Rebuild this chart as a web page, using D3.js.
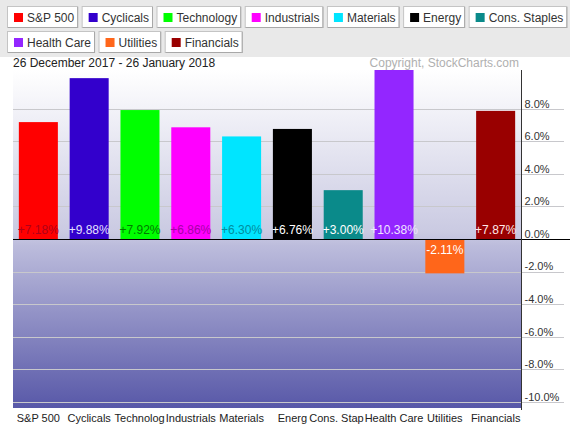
<!DOCTYPE html>
<html>
<head>
<meta charset="utf-8">
<script src="https://cdn.jsdelivr.net/npm/d3@7"></script>
<style>
html,body{margin:0;padding:0;background:#fff;}
svg{display:block;font-family:"Liberation Sans",Arial,sans-serif;}
</style>
</head>
<body>
<svg id="c" width="570" height="429"></svg>
<script>
// ---- data ----
const categories = ["S&P 500","Cyclicals","Technology","Industrials","Materials","Energy","Cons. Staples","Health Care","Utilities","Financials"];
const tickLabels = ["S&P 500","Cyclicals","Technolog","Industrials","Materials","Energ","Cons. Stap","Health Care","Utilities","Financials"];
const values = [7.18, 9.88, 7.92, 6.86, 6.30, 6.76, 3.00, 10.38, -2.11, 7.87];
const barColors = ["#ff0000","#3300cc","#00ff00","#ff00ff","#00e5ff","#000000","#0a8a8a","#9326ff","#ff661a","#990000"];
const labelColors = ["#b00018","#e4e0ff","#007a00","#a800a8","#008ea0","#ffffff","#ffffff","#efe4ff","#ffffff","#ffe8e8"];
const yTicks = [8, 6, 4, 2, 0, -2, -4, -6, -8, -10];
const dateText = "26 December 2017 - 26 January 2018";
const copyrightText = "Copyright, StockCharts.com";

// ---- layout ----
const W = 570, H = 429;
const plot = {left: 13, right: 521, top: 70, bottom: 408};
const svg = d3.select("#c");

const defs = svg.append("defs");
const grad = defs.append("linearGradient").attr("id","bg").attr("x1",0).attr("y1",0).attr("x2",0).attr("y2",1);
grad.append("stop").attr("offset","0%").attr("stop-color","#ffffff");
grad.append("stop").attr("offset","48%").attr("stop-color","#cacae2");
grad.append("stop").attr("offset","52%").attr("stop-color","#bcbcdc");
grad.append("stop").attr("offset","100%").attr("stop-color","#5858a8");

// header
svg.append("rect").attr("x",0).attr("y",0).attr("width",W).attr("height",57).attr("fill","#e9e9e9");

// legend flow
const legend = svg.append("g");
const measure = svg.append("text").attr("font-size",12).attr("visibility","hidden");
let lx = 7, ly = 6;
const boxH = 22, gap = 3.5;
categories.forEach((c,i)=>{
  measure.text(c);
  const tw = measure.node().getComputedTextLength();
  const bw = tw + 24;
  if (lx + bw > W - 2) { lx = 7; ly += 25; }
  const g = legend.append("g").attr("transform",`translate(${lx},${ly})`);
  g.append("rect").attr("x",0.5).attr("y",0.5).attr("width",bw-1).attr("height",boxH-1)
    .attr("fill","#ffffff").attr("stroke","#c4c4c4");
  g.append("line").attr("x1",1).attr("x2",bw-1).attr("y1",boxH-0.5).attr("y2",boxH-0.5).attr("stroke","#a8a8a8");
  g.append("line").attr("x1",bw-0.5).attr("x2",bw-0.5).attr("y1",1).attr("y2",boxH).attr("stroke","#a8a8a8");
  g.append("rect").attr("x",7).attr("y",7).attr("width",9).attr("height",9).attr("fill",barColors[i]);
  g.append("text").attr("x",20).attr("y",15.5).attr("font-size",12).attr("fill","#333").text(c);
  lx += bw + gap;
});
measure.remove();

// date + copyright
svg.append("text").attr("x",13).attr("y",67).attr("font-size",12).attr("fill","#222").text(dateText);
svg.append("text").attr("x",519).attr("y",67).attr("font-size",12).attr("fill","#b0b0b0")
  .attr("text-anchor","end").text(copyrightText);

// scales
const x = d3.scaleBand().domain(categories).range([plot.left, plot.right]).paddingInner(0.232).paddingOuter(0.115);
const y = d3.scaleLinear().domain([-10.38, 10.38]).range([plot.bottom, plot.top]);

// plot bg
svg.append("rect").attr("x",plot.left).attr("y",plot.top).attr("width",plot.right-plot.left)
  .attr("height",plot.bottom-plot.top).attr("fill","url(#bg)");

// gridlines
const grid = svg.append("g");
yTicks.filter(t=>t!==0).forEach(t=>{
  grid.append("line").attr("x1",plot.left).attr("x2",W-6)
    .attr("y1",Math.round(y(t))+0.5).attr("y2",Math.round(y(t))+0.5)
    .attr("stroke","#c8c8cc").attr("stroke-width",1);
});

// bars
svg.append("g").selectAll("rect").data(values).join("rect")
  .attr("x",(d,i)=>x(categories[i]))
  .attr("width",x.bandwidth())
  .attr("y",d=>y(Math.max(0,d)))
  .attr("height",d=>Math.abs(y(d)-y(0)))
  .attr("fill",(d,i)=>barColors[i]);

// value labels
svg.append("g").selectAll("text").data(values).join("text")
  .attr("x",(d,i)=>x(categories[i])+x.bandwidth()/2)
  .attr("y",d=> d>=0 ? y(0)-5 : y(0)+15)
  .attr("text-anchor","middle").attr("font-size",12)
  .attr("fill",(d,i)=>labelColors[i])
  .text(d=>(d>0?"+":"")+d.toFixed(2)+"%");

// zero line
svg.append("line").attr("x1",plot.left).attr("x2",W)
  .attr("y1",Math.round(y(0))+0.5).attr("y2",Math.round(y(0))+0.5)
  .attr("stroke","#000").attr("stroke-width",1.2);

// right axis
const yAxis = d3.axisRight(y).tickValues(yTicks).tickSize(0).tickPadding(3)
  .tickFormat(d=>d.toFixed(1)+"%");
const ag = svg.append("g").attr("transform",`translate(${plot.right+0.5},0)`).call(yAxis);
ag.select(".domain").attr("stroke","#333").attr("d",`M0,${plot.top}V${plot.bottom+2}`);
ag.selectAll("text").attr("font-size",11).attr("fill","#333")
  .attr("font-family","'Liberation Sans',Arial,sans-serif").attr("dy","-0.15em");

// category labels: centred on band, then pushed left (right-to-left) so none overlap
const catG = svg.append("g");
const catTexts = tickLabels.map((d,i)=>catG.append("text")
  .attr("y",422).attr("font-size",11).attr("fill","#222").text(d));
let limit = Infinity;
for (let i = tickLabels.length-1; i >= 0; i--) {
  const w = catTexts[i].node().getComputedTextLength();
  let left = x(categories[i]) + x.bandwidth()/2 - w/2;
  if (left + w > limit - 1) left = limit - 1 - w;
  catTexts[i].attr("x", left);
  limit = left;
}
</script>
</body>
</html>
